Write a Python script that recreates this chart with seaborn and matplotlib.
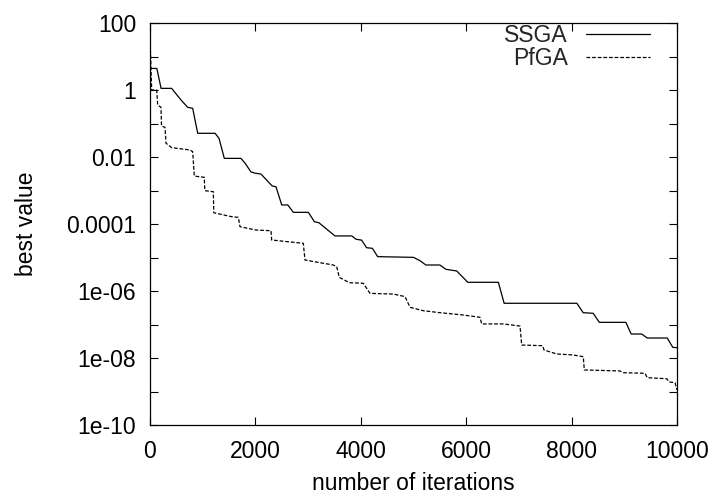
import pandas as pd
import matplotlib
matplotlib.use('Agg')
import matplotlib.pyplot as plt
import seaborn as sns
from matplotlib.ticker import FixedLocator, FixedFormatter, NullLocator

# values (best value vs. iterations)
iters_ssga = [0, 130, 210, 410, 590, 715, 810, 905, 1235, 1310,
              1410, 1725, 1805, 1915, 1990, 2105, 2320, 2390, 2500, 2615,
              2720, 3005, 3120, 3205, 3510, 3830, 3910, 4015, 4110, 4220,
              4320, 5000, 5125, 5235, 5500, 5615, 5820, 6030, 6610, 6720,
              8100, 8220, 8410, 8525, 9030, 9130, 9330, 9435, 9815, 9920,
              10000]
best_ssga = [4.4, 4.4, 1.12, 1.12, 0.50, 0.305, 0.284, 0.051, 0.051, 0.036,
             0.0091, 0.0091, 0.0065, 0.0036, 0.0033, 0.0031, 0.00136, 0.0013, 0.00037, 0.00037,
             2.23e-4, 2.23e-4, 1.17e-4, 1.09e-4, 4.4e-5, 4.4e-5, 3.5e-5, 3.3e-5, 1.96e-5, 1.88e-5,
             1.06e-5, 1.01e-5, 8.0e-6, 5.97e-6, 5.97e-6, 4.44e-6, 3.96e-6, 1.82e-6, 1.82e-6, 4.3e-7,
             4.3e-7, 2.25e-7, 2.16e-7, 1.16e-7, 1.16e-7, 5.2e-8, 5.2e-8, 3.95e-8, 3.95e-8, 2.08e-8,
             2.03e-8]

iters_pfga = [0, 32, 127, 146, 209, 218, 285, 304, 412, 759,
              810, 841, 935, 1030, 1040, 1202, 1210, 1550, 1676, 1708,
              2011, 2296, 2309, 2909, 2941, 3226, 3478, 3543, 3592, 3782,
              4047, 4175, 4617, 4839, 4934, 5186, 5503, 5945, 6262, 6294,
              6704, 7021, 7053, 7451, 7476, 7717, 8032, 8222, 8241, 8917,
              8980, 9393, 9436, 9804, 9854, 9962, 10000]
best_pfga = [35, 1.0, 1.0, 0.356, 0.305, 0.084, 0.077, 0.0257, 0.019, 0.0162,
             0.0144, 0.0027, 0.00258, 0.00248, 0.00099, 0.00092, 2.17e-4, 1.65e-4, 1.58e-4, 8.3e-5,
             6.6e-5, 6.3e-5, 3.33e-5, 2.65e-5, 8.4e-6, 7.0e-6, 5.97e-6, 5.3e-6, 2.56e-6, 1.77e-6,
             1.70e-6, 8.5e-7, 8.1e-7, 6.8e-7, 3.26e-7, 2.58e-7, 2.25e-7, 1.92e-7, 1.64e-7, 1.04e-7,
             1.04e-7, 9.0e-8, 2.44e-8, 2.33e-8, 1.73e-8, 1.32e-8, 1.23e-8, 1.09e-8, 4.4e-9, 4.1e-9,
             3.64e-9, 3.5e-9, 2.58e-9, 2.41e-9, 1.92e-9, 1.83e-9, 1.11e-9]

xticks = [0, 2000, 4000, 6000, 8000, 10000]
yticks = [1e-10, 1e-9, 1e-8, 1e-7, 1e-6, 1e-5, 1e-4, 1e-3, 1e-2, 1e-1, 1, 10, 100]
ytick_labels = ['1e-10', '', '1e-08', '', '1e-06', '', '0.0001', '', '0.01', '', '1', '', '100']

sns.set_theme(style='ticks')
plt.rcParams['font.family'] = ['Liberation Sans', 'DejaVu Sans']
fs = 16.5

fig, ax = plt.subplots(figsize=(7.15, 4.98), dpi=100)
fig.subplots_adjust(left=150/715, right=677/715, top=1-23/498, bottom=1-425/498)

ssga = pd.DataFrame({'iterations': iters_ssga, 'best': best_ssga})
pfga = pd.DataFrame({'iterations': iters_pfga, 'best': best_pfga})

sns.lineplot(data=ssga, x='iterations', y='best', ax=ax, color='black',
             linewidth=0.9, label='SSGA', estimator=None, sort=False)
sns.lineplot(data=pfga, x='iterations', y='best', ax=ax, color='black',
             linewidth=0.9, linestyle=(0, (3, 1.5)), label='PfGA',
             estimator=None, sort=False)

ax.set_yscale('log')
ax.set_xlim(0, 10000)
ax.set_ylim(1e-10, 100)
ax.set_xticks(xticks)
ax.set_xticklabels([str(t) for t in xticks])
ax.yaxis.set_major_locator(FixedLocator(yticks))
ax.yaxis.set_major_formatter(FixedFormatter(ytick_labels))
ax.yaxis.set_minor_locator(NullLocator())
ax.xaxis.set_minor_locator(NullLocator())

ax.tick_params(which='major', direction='in', length=6, width=0.8, color='black',
               top=True, right=True, labelsize=fs, labelcolor='black')
ax.tick_params(axis='y', pad=10)
ax.tick_params(axis='x', pad=11)
for s in ax.spines.values():
    s.set_color('black')
    s.set_linewidth(0.9)

ax.set_xlabel('number of iterations', fontsize=fs, color='black', labelpad=6)
ax.set_ylabel('best value', fontsize=fs, color='black', labelpad=20)

ax.legend(loc='upper right', bbox_to_anchor=(0.949, 0.997), frameon=False,
          markerfirst=False, fontsize=fs, handlelength=2.8, handletextpad=0.8,
          labelspacing=0.0, borderpad=0, borderaxespad=0)

fig.savefig('out.png', dpi=100)
